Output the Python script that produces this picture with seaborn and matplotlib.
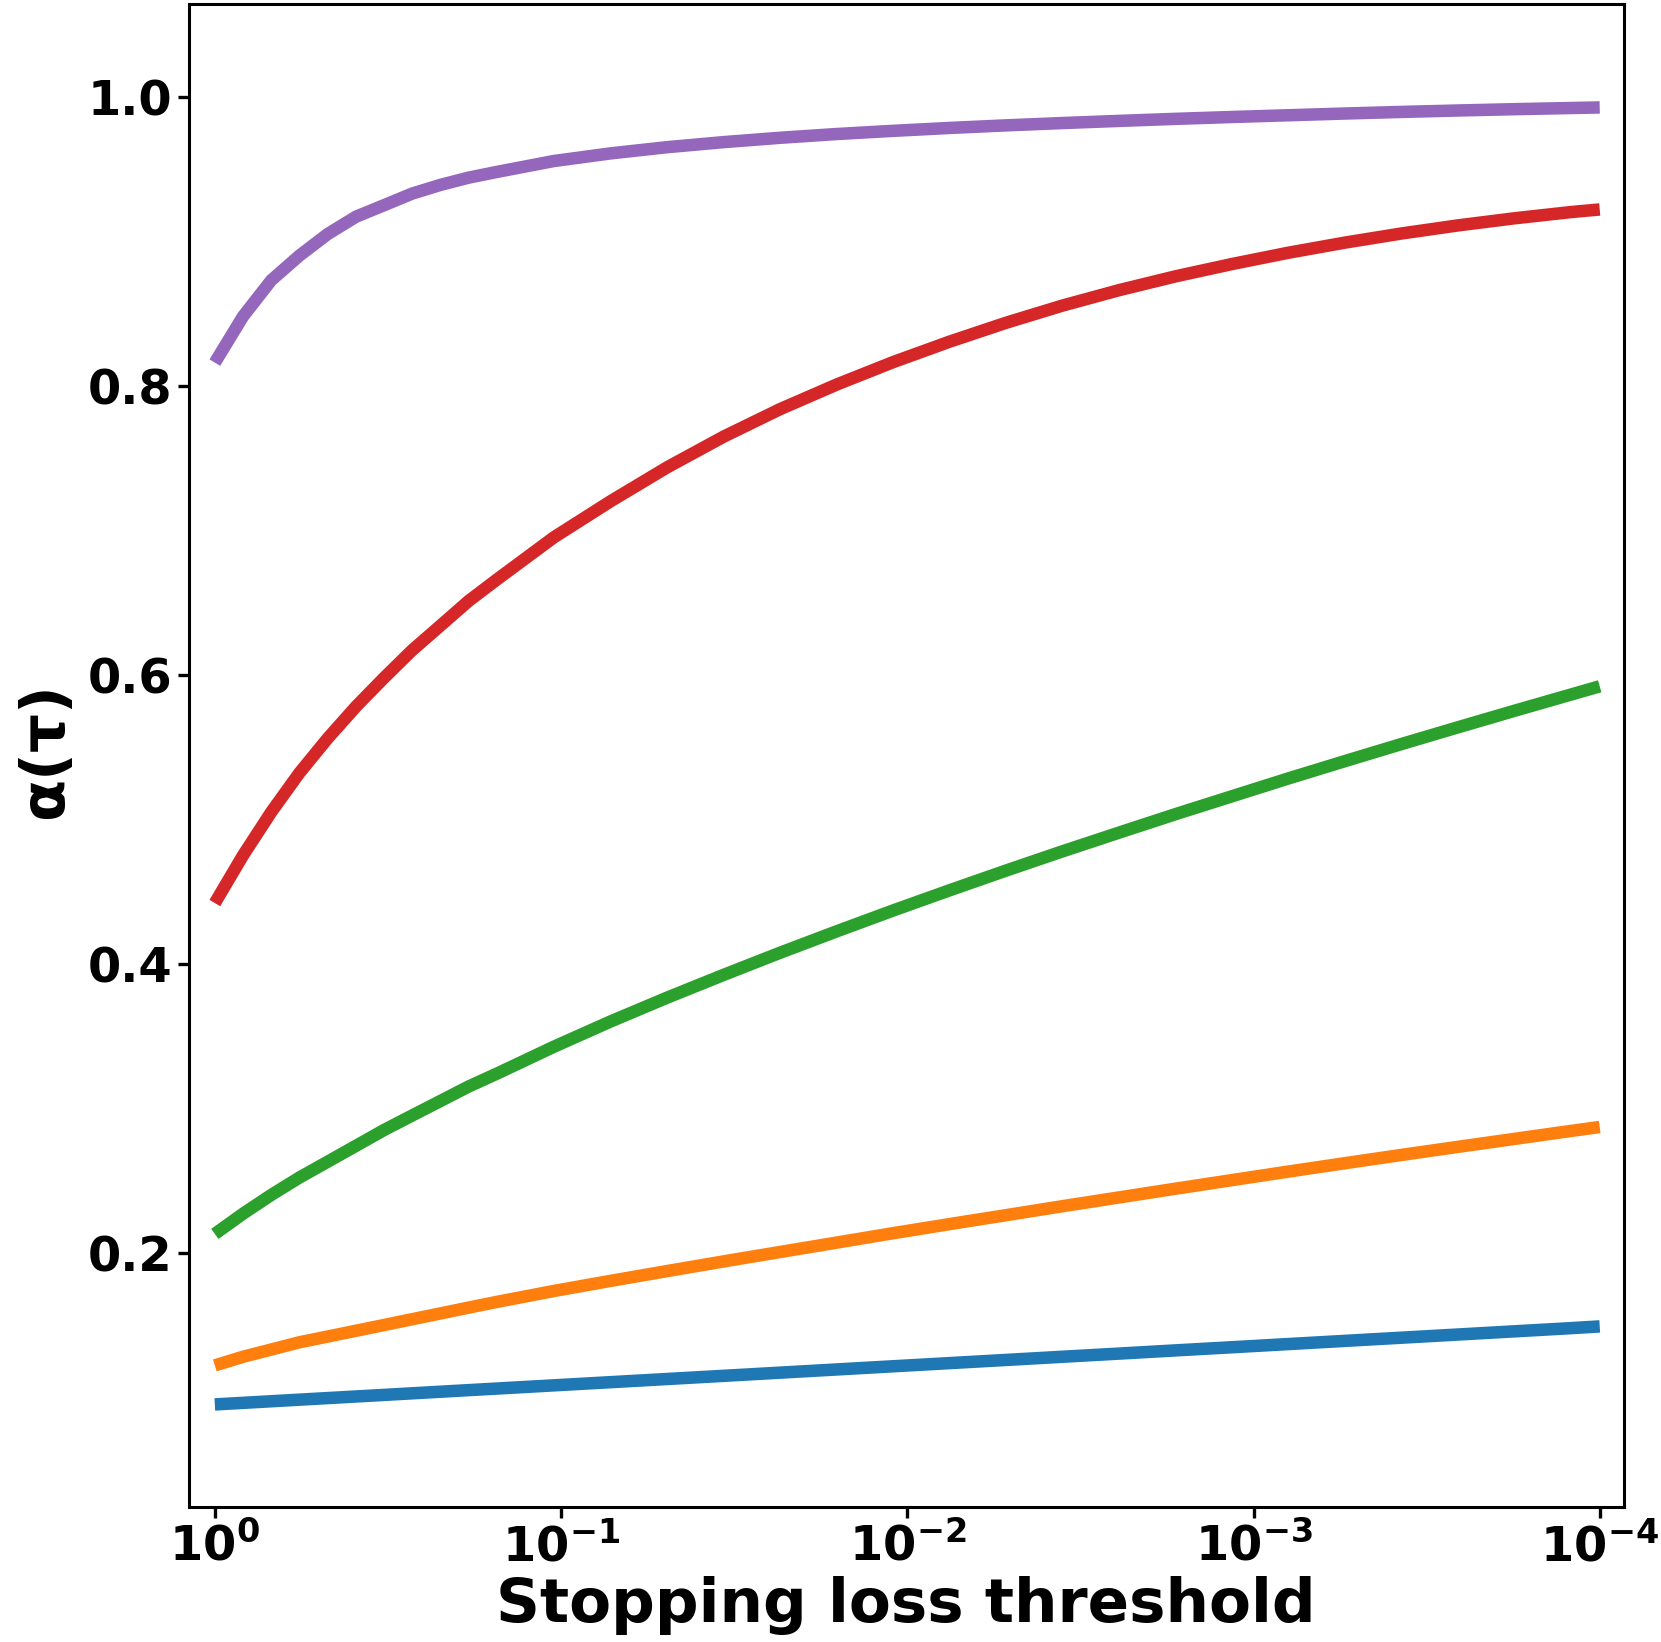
import numpy as np
import pandas as pd
import matplotlib
matplotlib.use("Agg")
import matplotlib.pyplot as plt
from matplotlib.ticker import FixedLocator, FixedFormatter, NullLocator
import seaborn as sns

# ---- data ----
thresholds = [1.0, 0.829, 0.687, 0.570, 0.472, 0.391, 0.324, 0.269, 0.223, 0.185,
              0.153, 0.105, 0.0720, 0.0494, 0.0339, 0.0233, 0.0160, 0.0110,
              0.00755, 0.00518, 0.00356, 0.00244, 0.00168, 0.00115, 0.000791,
              0.000543, 0.000373, 0.000256, 0.000176, 0.000121, 0.0001]

series_a = [0.0950, 0.0961, 0.0972, 0.0983, 0.0994, 0.1005, 0.1016, 0.1027, 0.1038, 0.1049,
            0.1060, 0.1082, 0.1104, 0.1126, 0.1148, 0.1170, 0.1192, 0.1214, 0.1236, 0.1258,
            0.1280, 0.1302, 0.1324, 0.1346, 0.1368, 0.1390, 0.1412, 0.1434, 0.1456, 0.1478,
            0.1490]
series_b = [0.122, 0.128, 0.133, 0.138, 0.142, 0.146, 0.150, 0.154, 0.158, 0.162,
            0.166, 0.1735, 0.1805, 0.1873, 0.194, 0.2005, 0.207, 0.2135, 0.2198, 0.226,
            0.2322, 0.2383, 0.2443, 0.2503, 0.2562, 0.262, 0.2677, 0.2733, 0.2788, 0.2843,
            0.2870]
series_c = [0.213, 0.227, 0.240, 0.252, 0.263, 0.274, 0.285, 0.295, 0.305, 0.315,
            0.324, 0.3425, 0.360, 0.3765, 0.3923, 0.4076, 0.4224, 0.4368, 0.4508, 0.4645,
            0.4778, 0.4908, 0.5035, 0.5160, 0.5283, 0.5403, 0.5521, 0.5637, 0.5751, 0.5863,
            0.5920]
series_d = [0.442, 0.475, 0.505, 0.532, 0.556, 0.578, 0.598, 0.617, 0.634, 0.651,
            0.666, 0.695, 0.720, 0.7435, 0.7648, 0.7838, 0.8008, 0.8163, 0.8305, 0.8436,
            0.8555, 0.8662, 0.8757, 0.8843, 0.8921, 0.8991, 0.9054, 0.911, 0.9159, 0.9202,
            0.9220]
series_e = [0.816, 0.848, 0.873, 0.890, 0.905, 0.917, 0.925, 0.933, 0.939, 0.944,
            0.948, 0.9555, 0.9608, 0.9651, 0.9686, 0.9716, 0.9742, 0.9764, 0.9784, 0.9802,
            0.9818, 0.9833, 0.9847, 0.9860, 0.9872, 0.9884, 0.9895, 0.9905, 0.9914, 0.9922,
            0.9926]

series_names = ["a", "b", "c", "d", "e"]
series_values = [series_a, series_b, series_c, series_d, series_e]
colors = ["#1f77b4", "#ff7f0e", "#2ca02c", "#d62728", "#9467bd"]

x_tick_values = [1, 1e-1, 1e-2, 1e-3, 1e-4]
x_tick_labels = [r"$\mathbf{10^{0}}$", r"$\mathbf{10^{-1}}$", r"$\mathbf{10^{-2}}$",
                 r"$\mathbf{10^{-3}}$", r"$\mathbf{10^{-4}}$"]
y_tick_values = [0.2, 0.4, 0.6, 0.8, 1.0]
y_tick_labels = ["0.2", "0.4", "0.6", "0.8", "1.0"]

rows = []
for name, vals in zip(series_names, series_values):
    for t, v in zip(thresholds, vals):
        rows.append({"threshold": t, "alpha": v, "series": name})
df = pd.DataFrame(rows)

# ---- style ----
sns.set_theme(style="ticks")
plt.rcParams["font.family"] = ["DejaVu Sans"]
plt.rcParams["mathtext.fontset"] = "dejavusans"
plt.rcParams["axes.linewidth"] = 2.2

fig = plt.figure(figsize=(16.61, 16.42), dpi=100)
ax = fig.add_axes([0.1135, 0.0822, 0.8642, 0.9152])

sns.lineplot(data=df, x="threshold", y="alpha", hue="series",
             palette=colors, linewidth=9, legend=False, ax=ax,
             estimator=None, sort=False)
for ln in ax.get_lines():
    ln.set_solid_capstyle("butt")
    ln.set_solid_joinstyle("miter")

ax.set_xscale("log")
ax.set_xlim(10 ** 0.076, 10 ** -4.07)
ax.set_ylim(0.024, 1.064)

ax.xaxis.set_major_locator(FixedLocator(x_tick_values))
ax.xaxis.set_major_formatter(FixedFormatter(x_tick_labels))
ax.xaxis.set_minor_locator(NullLocator())
ax.yaxis.set_major_locator(FixedLocator(y_tick_values))
ax.yaxis.set_major_formatter(FixedFormatter(y_tick_labels))

ax.tick_params(axis="both", which="major", length=8, width=2.4,
               labelsize=34.5, color="black", labelcolor="black", direction="out")
for lab in ax.get_yticklabels():
    lab.set_fontweight("bold")

ax.set_xlabel("Stopping loss threshold", fontsize=44, fontweight="bold",
              color="black", labelpad=4)
ax.set_ylabel(r"$\mathbf{\alpha(\tau)}$", fontsize=44, fontweight="bold",
              color="black", labelpad=7)

for s in ax.spines.values():
    s.set_color("black")
    s.set_linewidth(2.2)

fig.savefig("out.png", dpi=100)
